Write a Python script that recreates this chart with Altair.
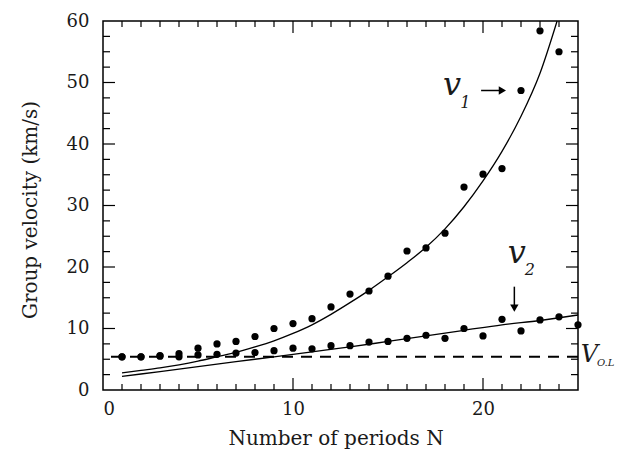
import altair as alt
import pandas as pd

# ---- data ----
N_v1 = list(range(1, 25))
v1_points = [5.4, 5.4, 5.6, 5.9, 6.8, 7.5, 7.9, 8.7, 10.0, 10.8, 11.6, 13.5,
             15.6, 16.1, 18.5, 22.6, 23.1, 25.5, 33.0, 35.1, 36.0, 48.7, 58.4, 55.0]
N_v2 = list(range(1, 26))
v2_points = [5.4, 5.4, 5.5, 5.4, 5.7, 5.8, 6.0, 6.1, 6.4, 6.8, 6.7, 7.2, 7.2,
             7.8, 7.9, 8.4, 8.9, 8.4, 10.0, 8.8, 11.5, 9.6, 11.4, 11.9, 10.6]

fit1_N = [1, 2, 3, 4, 5, 6, 7, 8, 9, 10, 11, 12, 13, 14, 15, 16, 17, 18, 19, 20, 21, 22, 23, 23.9]
fit1_v = [2.8, 3.2, 3.6, 4.1, 4.7, 5.4, 6.1, 7.0, 8.0, 9.2, 10.6, 12.3, 14.2, 16.2,
          18.4, 20.7, 23.2, 26.2, 29.8, 34.0, 38.8, 44.5, 51.5, 60.0]
fit2_N = [1, 3, 5, 7, 9, 11, 13, 15, 17, 19, 21, 23, 25]
fit2_v = [2.2, 3.0, 3.8, 4.6, 5.4, 6.2, 7.0, 7.9, 8.8, 9.7, 10.6, 11.3, 12.2]

V_OL = 5.4

x_labels = [0, 10, 20]
y_labels = [0, 10, 20, 30, 40, 50, 60]
x_major_ticks = [10, 20]
x_minor_ticks = [n for n in range(1, 25) if n not in (10, 20)]
y_major_ticks = [10, 20, 30, 40, 50]
y_minor_ticks = [2.5, 5, 7.5, 12.5, 15, 17.5, 22.5, 25, 27.5, 32.5, 35, 37.5,
                 42.5, 45, 47.5, 52.5, 55, 57.5]

W, H = 475, 369
FONT = "DejaVu Serif"
INK = "#1a1a1a"

xs = alt.Scale(domain=[0, 25], nice=False, zero=False)
ys = alt.Scale(domain=[0, 60], nice=False, zero=False)

pts = pd.DataFrame({
    "N": N_v1 + N_v2,
    "v": v1_points + v2_points,
    "s": ["v1"] * len(N_v1) + ["v2"] * len(N_v2),
})
fits = pd.DataFrame({
    "N": fit1_N + fit2_N,
    "v": fit1_v + fit2_v,
    "s": ["v1"] * len(fit1_N) + ["v2"] * len(fit2_N),
})

xaxis = alt.Axis(values=x_labels, ticks=False, domain=False, grid=False,
                 labelPadding=10, title="Number of periods N",
                 titleX=W / 2 - 5, titleY=48, titleBaseline="middle", titleAlign="center")
yaxis = alt.Axis(values=y_labels, ticks=False, domain=False, grid=False,
                 labelPadding=14, title="Group velocity (km/s)",
                 titleX=-73, titleY=H / 2 + 4, titleBaseline="middle", titleAlign="center",
                 titleAngle=270)

X = lambda: alt.X("N:Q", scale=xs, axis=xaxis)
Y = lambda: alt.Y("v:Q", scale=ys, axis=yaxis)

dashed = alt.Chart(pd.DataFrame({"v": [V_OL]})).mark_rule(
    color="black", strokeWidth=2, strokeDash=[11, 8]
).encode(y=Y())

curves = alt.Chart(fits).mark_line(color="black", strokeWidth=1.3, interpolate="monotone").encode(
    x=X(), y=Y(), detail="s:N")

dots = alt.Chart(pts).mark_circle(color="black", size=52, opacity=1).encode(x=X(), y=Y())

def xticks(vals, length, top):
    d = pd.DataFrame({"N": vals})
    if top:
        return alt.Chart(d).mark_rule(color="black", strokeWidth=1.2).encode(
            x=X(), y=alt.value(0), y2=alt.value(length))
    return alt.Chart(d).mark_rule(color="black", strokeWidth=1.2).encode(
        x=X(), y=alt.value(H), y2=alt.value(H - length))

def yticks(vals, length, right):
    d = pd.DataFrame({"v": vals})
    if right:
        return alt.Chart(d).mark_rule(color="black", strokeWidth=1.2).encode(
            y=Y(), x=alt.value(W), x2=alt.value(W - length))
    return alt.Chart(d).mark_rule(color="black", strokeWidth=1.2).encode(
        y=Y(), x=alt.value(0), x2=alt.value(length))

tick_layers = [
    xticks(x_major_ticks, 12, False), xticks(x_minor_ticks, 6, False),
    xticks(x_major_ticks, 12, True), xticks(x_minor_ticks, 6, True),
    yticks(y_major_ticks, 12, False), yticks(y_minor_ticks, 7, False),
    yticks(y_major_ticks, 12, True), yticks(y_minor_ticks, 7, True),
]

# annotations
labels_df = pd.DataFrame({
    "N": [17.9, 18.8, 21.3, 22.2, 25.15, 26.0],
    "v": [48.0, 45.8, 20.7, 18.7, 4.55, 3.9],
    "t": ["v", "1", "v", "2", "V", "O.L"],
    "size": [32, 16, 32, 16, 24, 10],
})
ann = alt.Chart(labels_df).mark_text(
    font=FONT, fontStyle="italic", align="left", baseline="alphabetic", color=INK
).encode(
    x=X(), y=Y(), text="t:N",
    size=alt.Size("size:Q", scale=None, legend=None))

arrow1 = alt.Chart(pd.DataFrame({"N": [19.9], "N2": [20.9], "v": [48.7]})).mark_rule(
    color="black", strokeWidth=1.5).encode(x=X(), x2="N2:Q", y=Y())
head1 = alt.Chart(pd.DataFrame({"N": [21.02], "v": [48.7]})).mark_point(
    shape="triangle-right", filled=True, color="black", size=70, opacity=1).encode(x=X(), y=Y())
arrow2 = alt.Chart(pd.DataFrame({"N": [21.65], "v": [16.8], "v2": [13.8]})).mark_rule(
    color="black", strokeWidth=1.5).encode(x=X(), y=Y(), y2="v2:Q")
head2 = alt.Chart(pd.DataFrame({"N": [21.65], "v": [13.3]})).mark_point(
    shape="triangle-down", filled=True, color="black", size=70, opacity=1).encode(x=X(), y=Y())

chart = alt.layer(
    curves, dashed, dots, *tick_layers, ann, arrow1, head1, arrow2, head2
).properties(
    width=W, height=H,
    background="white",
    autosize=alt.AutoSizeParams(type="none"),
    padding={"left": 95, "top": 13, "right": 37, "bottom": 59},
).configure_view(
    stroke="black", strokeWidth=1.5
).configure_axis(
    labelFont=FONT, labelFontSize=18, labelColor=INK,
    titleFont=FONT, titleFontSize=20, titleFontWeight="normal", titleColor=INK,
).configure_text(font=FONT)

chart.save("out.html", embed_options={"renderer": "svg", "actions": False})
